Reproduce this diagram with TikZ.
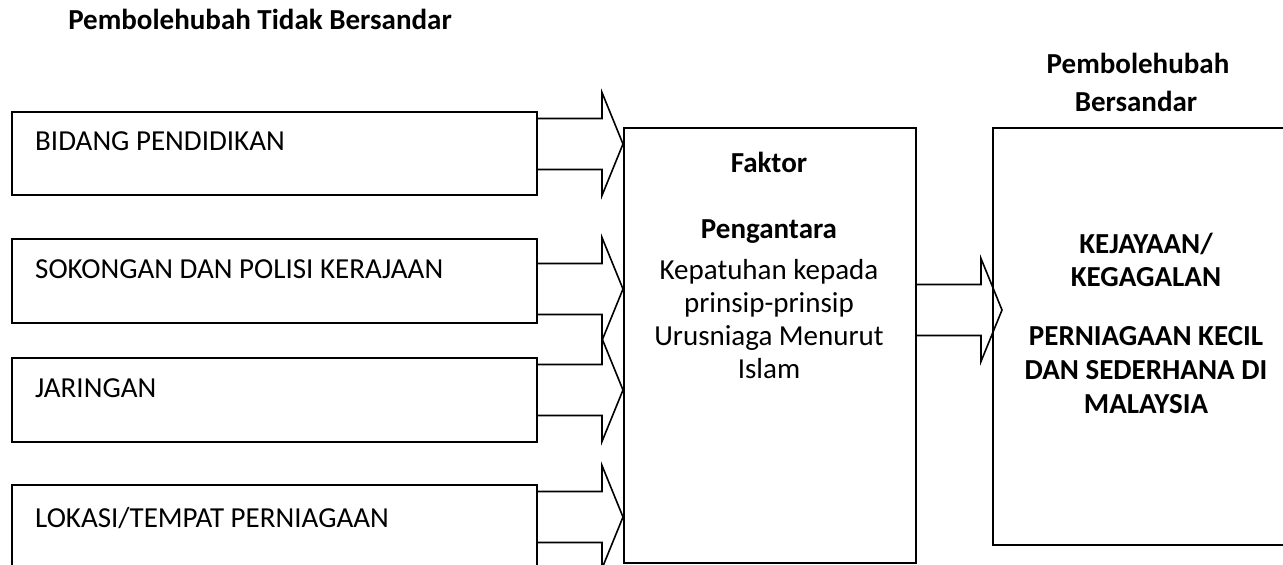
\documentclass[tikz,border=0pt]{standalone}
\usepackage{fontspec}
\setmainfont{Carlito}
\usetikzlibrary{calc}
\tikzset{
  x=1pt, y=-1pt,
  box/.style={draw, line width=1.6pt, inner sep=0pt, anchor=north west},
  lbl/.style={font=\fontsize{29}{33}\selectfont, inner sep=0pt, anchor=base},
  lbll/.style={lbl, anchor=base west},
  ttl/.style={lbl, font=\fontsize{29}{33}\selectfont\bfseries},
  barrow/.style={draw, line width=1.6pt, line join=miter},
}
\newcommand\blockarrow[2]{%
  \draw[barrow] (#1) ++(0,-25.5) -- ($(#2)+(-21,-25.5)$) -- ($(#2)+(-21,-51.5)$) -- (#2)
    -- ($(#2)+(-21,51.5)$) -- ($(#2)+(-21,25.5)$) -- ($(#1)+(0,25.5)$);}
\begin{document}
\begin{tikzpicture}
\useasboundingbox (0,0) rectangle (1283,565);
\clip (0,0) rectangle (1283,565);
% left boxes
\node[box, minimum width=525pt, minimum height=83pt] (b1) at (11,111) {};
\node[box, minimum width=525pt, minimum height=84pt] (b2) at (11,238) {};
\node[box, minimum width=525pt, minimum height=84pt] (b3) at (11,357) {};
\node[box, minimum width=525pt, minimum height=120pt] (b4) at (11,484) {};
% middle box
\node[box, minimum width=292pt, minimum height=435pt] (mid) at (623,127) {};
% right box
\node[box, minimum width=310pt, minimum height=417pt] (rb) at (992,127) {};
% texts
\node[ttl] (t0) at (260,29.5) {Pembolehubah Tidak Bersandar};
\node[ttl] (t1) at (1138,73) {Pembolehubah};
\node[ttl] (t2) at (1136,111) {Bersandar};
\node[lbll] (l1) at (35,150) {BIDANG PENDIDIKAN};
\node[lbll] (l2) at (35,278) {SOKONGAN DAN POLISI KERAJAAN};
\node[lbll] (l3) at (35,397) {JARINGAN};
\node[lbll] (l4) at (35,527) {LOKASI/TEMPAT PERNIAGAAN};
\node[ttl] (m1) at (769,172) {Faktor};
\node[ttl] (m2) at (769,238) {Pengantara};
\node[lbl] (m3) at (769,279) {Kepatuhan kepada};
\node[lbl] (m4) at (769,312) {prinsip-prinsip};
\node[lbl] (m5) at (769,345) {Urusniaga Menurut};
\node[lbl] (m6) at (769,378) {Islam};
\node[ttl] (r1) at (1146,253) {KEJAYAAN/};
\node[ttl] (r2) at (1146,286) {KEGAGALAN};
\node[ttl] (r3) at (1146,345) {PERNIAGAAN KECIL};
\node[ttl] (r4) at (1146,379) {DAN SEDERHANA DI};
\node[ttl] (r5) at (1146,413) {MALAYSIA};
% arrow anchor points
\coordinate (s1) at (b1.east |- 0,144);  \coordinate (e1) at (mid.west |- s1);
\coordinate (s2) at (b2.east |- 0,289);  \coordinate (e2) at (mid.west |- s2);
\coordinate (s3) at (b3.east |- 0,390);  \coordinate (e3) at (mid.west |- s3);
\coordinate (s4) at (b4.east |- 0,517);  \coordinate (e4) at (mid.west |- s4);
\coordinate (s5) at (mid.east |- 0,310); \coordinate (e5) at ($(rb.west |- s5)+(10,0)$);
\blockarrow{s1}{e1}
\blockarrow{s2}{e2}
\blockarrow{s3}{e3}
\blockarrow{s4}{e4}
\blockarrow{s5}{e5}
\end{tikzpicture}
\end{document}
